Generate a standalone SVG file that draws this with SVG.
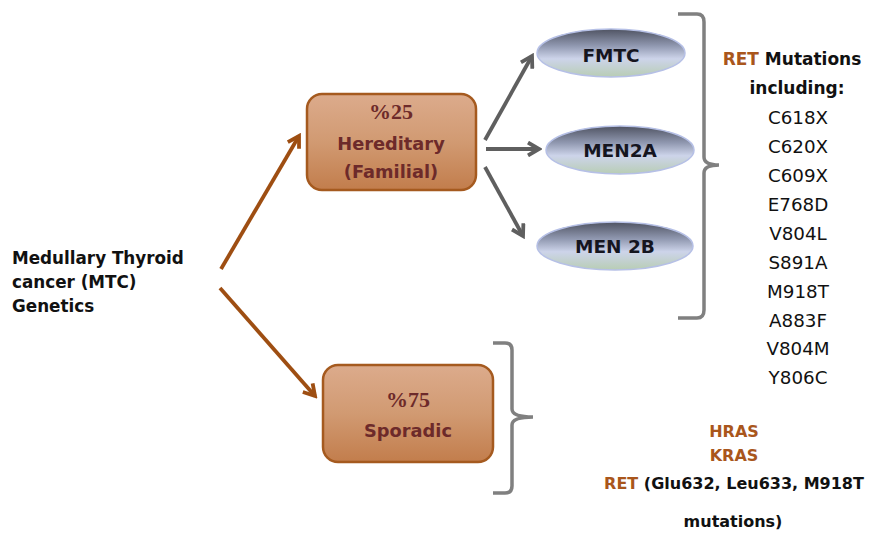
<svg xmlns="http://www.w3.org/2000/svg" width="875" height="534" viewBox="0 0 875 534">
<defs>
<linearGradient id="boxGrad" x1="0" y1="0" x2="0" y2="1">
<stop offset="0" stop-color="#dcab8c"/>
<stop offset="0.5" stop-color="#d19a72"/>
<stop offset="1" stop-color="#c27d4c"/>
</linearGradient>
<linearGradient id="ellGrad" x1="0" y1="0" x2="0" y2="1">
<stop offset="0" stop-color="#4f5362"/>
<stop offset="0.35" stop-color="#9098b0"/>
<stop offset="0.62" stop-color="#cdd4ea"/>
<stop offset="1" stop-color="#b8cdb4"/>
</linearGradient>
<marker id="brownHead" viewBox="0 0 16 16" markerWidth="16" markerHeight="16" markerUnits="userSpaceOnUse" refX="13" refY="8" orient="auto">
<path d="M2,1.5 L13,8 L2,14.5" fill="none" stroke="#9e4e12" stroke-width="3.8"/>
</marker>
<marker id="grayHead" viewBox="0 0 16 16" markerWidth="16" markerHeight="16" markerUnits="userSpaceOnUse" refX="13" refY="8" orient="auto">
<path d="M2,1.5 L13,8 L2,14.5" fill="none" stroke="#5f5f5f" stroke-width="3.8"/>
</marker>
</defs>
<style>
.box{fill:url(#boxGrad);stroke:#a55a1f;stroke-width:2.5}
.ell{fill:url(#ellGrad);stroke:#b6c0e6;stroke-width:1.5}
.bt{font-family:"DejaVu Sans",sans-serif;font-weight:bold;font-size:17.8px;fill:#6d2a2a;text-anchor:middle}
.pct{font-family:"Liberation Serif",serif;font-size:22px;fill:#6d2a2a;text-anchor:middle}
.et{font-family:"DejaVu Sans",sans-serif;font-weight:bold;font-size:18.5px;fill:#15151f;text-anchor:middle}
.lt{font-family:"DejaVu Sans",sans-serif;font-weight:bold;font-size:16.8px;fill:#111}
.mut{font-family:"DejaVu Sans",sans-serif;font-size:18.3px;fill:#111;text-anchor:middle}
.hd{font-family:"DejaVu Sans",sans-serif;font-weight:bold;font-size:17px;fill:#111;text-anchor:middle}
.sp{font-family:"DejaVu Sans",sans-serif;font-weight:bold;font-size:16px;fill:#111;text-anchor:middle}
.ret{fill:#a9561c}
.brown{stroke:#9e4e12;stroke-width:3.8;fill:none}
.gray{stroke:#5f5f5f;stroke-width:3.8;fill:none}
.brk{stroke:#808080;stroke-width:3.5;fill:none}
</style>

<g id="connectors">
<line class="brown" x1="221" y1="269" x2="299" y2="136" marker-end="url(#brownHead)"/>
<line class="brown" x1="220" y1="288" x2="315" y2="396" marker-end="url(#brownHead)"/>
<line class="gray" x1="485" y1="140" x2="532" y2="56" marker-end="url(#grayHead)"/>
<line class="gray" x1="486" y1="149" x2="539" y2="149" marker-end="url(#grayHead)"/>
<line class="gray" x1="485" y1="167" x2="523" y2="236" marker-end="url(#grayHead)"/>
<path class="brk" d="M678,14 H697 Q704,14 704,22 V157 Q704,165 719,165 Q704,165 704,173 V310 Q704,318 697,318 H678"/>
<path class="brk" d="M493,343 H505 Q512,343 512,350 V409 Q512,417 533,417 Q512,417 512,425 V486 Q512,493 505,493 H493"/>
</g>

<g id="mtc">
<text class="lt" x="12" y="264">Medullary Thyroid</text>
<text class="lt" x="12" y="288">cancer (MTC)</text>
<text class="lt" x="12" y="312">Genetics</text>
</g>

<g id="hereditary">
<rect class="box" x="307" y="94" width="169" height="96" rx="15"/>
<text class="pct" x="391" y="119" font-weight="bold">%25</text>
<text class="bt" x="391" y="150">Hereditary</text>
<text class="bt" x="391" y="178">(Familial)</text>
</g>

<g id="sporadic">
<rect class="box" x="323" y="365" width="170" height="97" rx="15"/>
<text class="pct" x="408" y="407" font-weight="bold">%75</text>
<text class="bt" x="408" y="437">Sporadic</text>
</g>

<g id="fmtc">
<ellipse class="ell" cx="611" cy="53" rx="74" ry="24"/>
<text class="et" x="611" y="62">FMTC</text>
</g>

<g id="men2a">
<ellipse class="ell" cx="620" cy="150" rx="74" ry="24"/>
<text class="et" x="620" y="157">MEN2A</text>
</g>

<g id="men2b">
<ellipse class="ell" cx="615" cy="246" rx="78" ry="24"/>
<text class="et" x="615" y="253">MEN 2B</text>
</g>

<g id="ret-list">
<text class="hd" x="792" y="65"><tspan class="ret">RET</tspan> Mutations</text>
<text class="hd" x="797" y="94">including:</text>
<text class="mut" x="798" y="124">C618X</text>
<text class="mut" x="798" y="153">C620X</text>
<text class="mut" x="798" y="182">C609X</text>
<text class="mut" x="798" y="211">E768D</text>
<text class="mut" x="798" y="240">V804L</text>
<text class="mut" x="798" y="269">S891A</text>
<text class="mut" x="798" y="298">M918T</text>
<text class="mut" x="798" y="327">A883F</text>
<text class="mut" x="798" y="355">V804M</text>
<text class="mut" x="798" y="384">Y806C</text>
</g>

<g id="sporadic-list">
<text class="sp ret" x="734" y="437">HRAS</text>
<text class="sp ret" x="734" y="461">KRAS</text>
<text class="sp" x="734" y="489"><tspan class="ret">RET</tspan> (Glu632, Leu633, M918T</text>
<text class="sp" x="733" y="527">mutations)</text>
</g>
</svg>
